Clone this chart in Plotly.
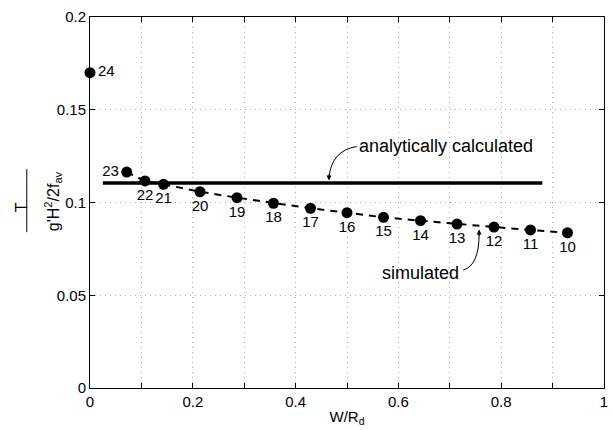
import plotly.graph_objects as go

# ---- data ----
run_ids = [24, 23, 22, 21, 20, 19, 18, 17, 16, 15, 14, 13, 12, 11, 10]
w_over_rd = [0.0, 0.0714, 0.107, 0.143, 0.214, 0.286, 0.357, 0.429, 0.5,
             0.571, 0.643, 0.714, 0.786, 0.857, 0.929]
t_norm = [0.170, 0.1164, 0.1116, 0.1098, 0.1058, 0.1026, 0.0996, 0.0969,
          0.0945, 0.0920, 0.0902, 0.0884, 0.0868, 0.0852, 0.0837]
analytic_x = [0.025, 0.88]
analytic_value = 0.1105
x_ticks = [0, 0.2, 0.4, 0.6, 0.8, 1]
y_ticks = [0, 0.05, 0.1, 0.15, 0.2]

FONT = "Liberation Sans, Arial, Helvetica, sans-serif"

fig = go.Figure()

# analytic line
fig.add_trace(go.Scatter(x=analytic_x, y=[analytic_value] * 2, mode="lines",
                         line=dict(color="black", width=3.5), hoverinfo="skip"))

# simulated dashed line (runs 23..10)
fig.add_trace(go.Scatter(x=w_over_rd[1:], y=t_norm[1:], mode="lines",
                         line=dict(color="black", width=2, dash="7px,6px"),
                         hoverinfo="skip"))

# markers with labels
positions = ["middle right", "middle left"] + ["bottom center"] * 13
fig.add_trace(go.Scatter(x=w_over_rd, y=t_norm, mode="markers+text",
                         marker=dict(color="black", size=11),
                         text=[f"{r}" for r in run_ids],
                         textposition=positions,
                         textfont=dict(family=FONT, size=15, color="black"),
                         cliponaxis=False))

# curved arrows (paths in data coords)
fig.add_shape(type="path", path="M 0.519,0.1302 Q 0.47,0.128 0.465,0.1135",
              xref="x", yref="y", line=dict(color="black", width=1))
fig.add_annotation(x=0.465, y=0.1118, ax=0, ay=-8, showarrow=True,
                   arrowhead=2, arrowsize=1, arrowwidth=1, arrowcolor="black", text="")
fig.add_shape(type="path", path="M 0.726,0.0636 Q 0.757,0.066 0.757,0.083",
              xref="x", yref="y", line=dict(color="black", width=1))
fig.add_annotation(x=0.757, y=0.0855, ax=0, ay=8, showarrow=True,
                   arrowhead=2, arrowsize=1, arrowwidth=1, arrowcolor="black", text="")

fig.add_annotation(x=0.52, y=0.1303, xanchor="left", yanchor="middle",
                   text="analytically calculated", showarrow=False,
                   font=dict(family=FONT, size=18, color="black"))
fig.add_annotation(x=0.722, y=0.0622, xanchor="right", yanchor="middle",
                   text="simulated", showarrow=False,
                   font=dict(family=FONT, size=18, color="black"))

# y-axis fraction label
fig.add_annotation(xref="paper", yref="paper", x=-0.152, y=0.488, text="T",
                   textangle=-90, showarrow=False,
                   font=dict(family=FONT, size=16, color="black"))
fig.add_annotation(xref="paper", yref="paper", x=-0.097, y=0.504,
                   text="g'H<sup>2</sup>/2f<sub>av</sub>",
                   textangle=-90, showarrow=False,
                   font=dict(family=FONT, size=16, color="black"))
fig.add_shape(type="line", xref="paper", yref="paper", x0=-0.123, x1=-0.123,
              y0=0.42, y1=0.59, line=dict(color="black", width=1))

axis_common = dict(showline=True, linecolor="black", linewidth=1, mirror="ticks",
                   ticks="inside", ticklen=5, tickcolor="black",
                   showgrid=True, gridcolor="#b0b0b0", griddash="1px,4px", gridwidth=1,
                   zeroline=False, automargin=False,
                   tickfont=dict(family=FONT, size=15, color="black"))

fig.update_xaxes(range=[0, 1], tickvals=x_ticks, ticktext=[f"{v:g}" for v in x_ticks],
                 minor=dict(dtick=0.1, tick0=0, ticks="inside", ticklen=5,
                            tickcolor="black", showgrid=True, gridcolor="#b0b0b0",
                            griddash="1px,4px"),
                 title=dict(text="W/R<sub>d</sub>", font=dict(family=FONT, size=15, color="black"),
                            standoff=2),
                 **axis_common)
fig.update_yaxes(range=[0, 0.2], tickvals=y_ticks, ticktext=[f"{v:g}" for v in y_ticks],
                 **axis_common)

fig.update_layout(width=613, height=430, showlegend=False,
                  margin=dict(l=90, r=9, t=17, b=42),
                  plot_bgcolor="white", paper_bgcolor="white",
                  font=dict(family=FONT))

fig.write_html("out.html", config={"displayModeBar": False},
               post_script="document.body.style.margin='0';document.body.style.overflow='hidden';")
